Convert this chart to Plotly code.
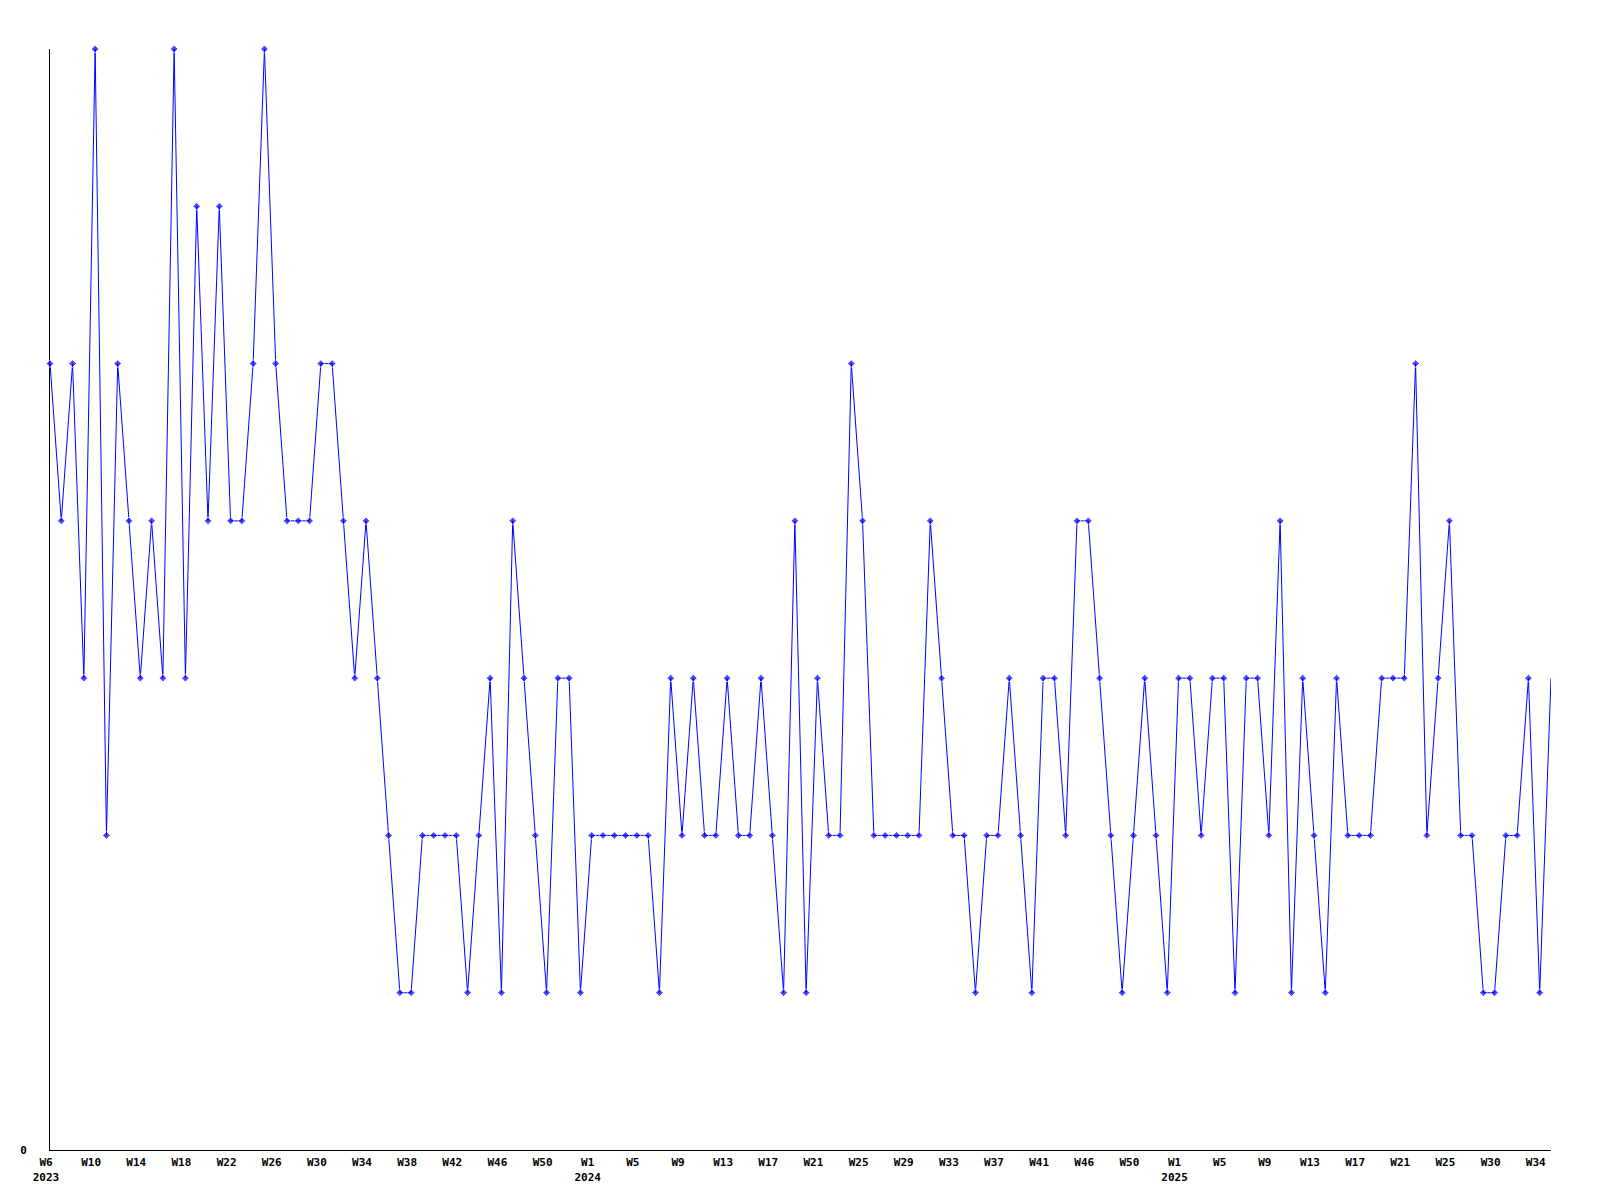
import plotly.graph_objects as go

# Weekly values, 2023-W6 .. 2025-W35
values = [5, 4, 5, 3, 7, 2, 5, 4, 3, 4,
          3, 7, 3, 6, 4, 6, 4, 4, 5, 7,
          5, 4, 4, 4, 5, 5, 4, 3, 4, 3,
          2, 1, 1, 2, 2, 2, 2, 1, 2, 3,
          1, 4, 3, 2, 1, 3, 3, 1, 2, 2,
          2, 2, 2, 2, 1, 3, 2, 3, 2, 2,
          3, 2, 2, 3, 2, 1, 4, 1, 3, 2,
          2, 5, 4, 2, 2, 2, 2, 2, 4, 3,
          2, 2, 1, 2, 2, 3, 2, 1, 3, 3,
          2, 4, 4, 3, 2, 1, 2, 3, 2, 1,
          3, 3, 2, 3, 3, 1, 3, 3, 2, 4,
          1, 3, 2, 1, 3, 2, 2, 2, 3, 3,
          3, 5, 2, 3, 4, 2, 2, 1, 1, 2,
          2, 3, 1, 3]

# Tick labels, one every 4 weeks
tick_weeks = ["W6", "W10", "W14", "W18", "W22", "W26", "W30", "W34", "W38", "W42", "W46", "W50",
              "W1", "W5", "W9", "W13", "W17", "W21", "W25", "W29", "W33", "W37", "W41", "W46", "W50",
              "W1", "W5", "W9", "W13", "W17", "W21", "W25", "W30", "W34"]
tick_years = {0: "2023", 12: "2024", 25: "2025"}

n = len(values)
x = list(range(n))
tickvals = [4 * k for k in range(len(tick_weeks))]
ticktext = [w + ("<br>" + tick_years[k] if k in tick_years else "") for k, w in enumerate(tick_weeks)]

marker_sizes = [6] * (n - 1) + [0]

font = dict(family="DejaVu Sans Mono", size=11, color="black", weight="bold")

fig = go.Figure()
fig.add_trace(go.Scatter(
    x=x, y=values, mode="lines+markers",
    line=dict(color="#0000FF", width=1),
    marker=dict(symbol="diamond", size=marker_sizes, color="#0000FF"),
    cliponaxis=False, showlegend=False,
))

fig.update_layout(
    width=1584, height=1184,
    margin=dict(l=42, r=41, t=41, b=42),
    paper_bgcolor="white", plot_bgcolor="white",
    font=font,
    xaxis=dict(range=[0, n - 1], tickvals=tickvals, ticktext=ticktext, automargin=False,
               showgrid=False, zeroline=False, showline=True, linecolor="black", linewidth=1,
               ticks="outside", ticklen=2, tickcolor="rgba(0,0,0,0)", tickfont=font,
               ticklabelshift=-4, layer="below traces"),
    yaxis=dict(range=[0, 7], tickvals=[0], ticktext=["0"], automargin=False,
               showgrid=False, zeroline=False, showline=True, linecolor="black", linewidth=1,
               ticks="outside", ticklen=20, tickcolor="rgba(0,0,0,0)", tickfont=font,
               layer="below traces"),
)

fig.write_html("out.html")
